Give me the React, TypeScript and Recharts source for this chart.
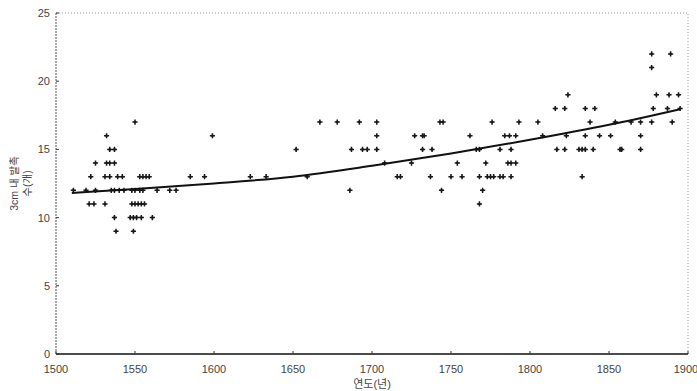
import React from 'react';
import { ScatterChart, Scatter, XAxis, YAxis, ReferenceLine, Label } from 'recharts';

// Observed points, grouped by value (count) level
const yearsAt9 = [1538, 1549];
const yearsAt10 = [1537, 1547, 1549, 1551, 1554, 1561];
const yearsAt11 = [1521, 1524, 1531, 1548, 1550, 1552, 1554, 1556, 1768];
const yearsAt12 = [1511, 1519, 1525, 1535, 1537, 1540, 1543, 1548, 1550, 1553, 1555, 1564, 1572, 1576, 1686, 1744, 1770];
const yearsAt13 = [1522, 1531, 1534, 1539, 1542, 1553, 1555, 1557, 1559, 1585, 1594, 1623, 1633, 1659, 1716, 1718, 1737, 1750, 1757, 1768, 1773, 1775, 1777, 1781, 1783, 1788, 1833];
const yearsAt14 = [1525, 1532, 1534, 1537, 1708, 1725, 1754, 1772, 1786, 1788, 1791];
const yearsAt15 = [1534, 1537, 1652, 1687, 1694, 1697, 1703, 1732, 1738, 1766, 1768, 1781, 1788, 1817, 1822, 1831, 1833, 1835, 1840, 1857, 1858, 1870];
const yearsAt16 = [1532, 1599, 1703, 1727, 1732, 1733, 1762, 1784, 1787, 1791, 1808, 1823, 1835, 1844, 1851, 1870];
const yearsAt17 = [1550, 1667, 1678, 1692, 1703, 1743, 1745, 1776, 1793, 1805, 1838, 1854, 1864, 1870, 1877, 1890];
const yearsAt18 = [1816, 1822, 1835, 1841, 1878, 1887, 1895];
const yearsAt19 = [1824, 1880, 1888, 1894];
const yearsAt21 = [1877];
const yearsAt22 = [1877, 1889];

const levels: [number, number[]][] = [
  [9, yearsAt9], [10, yearsAt10], [11, yearsAt11], [12, yearsAt12], [13, yearsAt13],
  [14, yearsAt14], [15, yearsAt15], [16, yearsAt16], [17, yearsAt17], [18, yearsAt18],
  [19, yearsAt19], [21, yearsAt21], [22, yearsAt22],
];

// Trend curve
const trendYears = [1510, 1550, 1600, 1650, 1700, 1750, 1800, 1850, 1895];
const trendValues = [11.8, 12.1, 12.5, 13.0, 13.8, 14.7, 15.7, 16.8, 17.95];

const xTicks = [1500, 1550, 1600, 1650, 1700, 1750, 1800, 1850, 1900];
const yTicks = [0, 5, 10, 15, 20, 25];

const xTitle = '연도(년)';
const yTitleLine1 = '3cm 내 발촉';
const yTitleLine2 = '수(개)';

const points = levels.flatMap(([v, ys]) => ys.map((year) => ({ year, value: v })));
const trend = trendYears.map((year, i) => ({ year, value: trendValues[i] }));

const FONT = '"Liberation Sans", Arial, "Noto Sans CJK KR", sans-serif';

const PlusMark = (props: any) => {
  const { cx, cy } = props;
  if (cx == null || cy == null) return <g />;
  return (
    <g>
      <path d={`M${cx - 2.6},${cy}H${cx + 2.6}M${cx},${cy - 2.6}V${cy + 2.6}`} stroke="#1a1a1a" strokeWidth={1.5} />
      <circle cx={cx} cy={cy} r={1.3} fill="#1a1a1a" />
    </g>
  );
};

const NoMark = () => <g />;

const YTitle = (props: any) => {
  const vb = props.viewBox || {};
  const cy = vb.y + vb.height / 2;
  const x1 = 14;
  const x2 = 27;
  return (
    <g fontFamily={FONT} fontSize={10.5} fill="#444">
      <text x={x1} y={cy} transform={`rotate(-90 ${x1} ${cy})`} textAnchor="middle" dominantBaseline="central">{yTitleLine1}</text>
      <text x={x2} y={cy} transform={`rotate(-90 ${x2} ${cy})`} textAnchor="middle" dominantBaseline="central">{yTitleLine2}</text>
    </g>
  );
};

export default function App() {
  return (
    <div style={{ position: 'absolute', left: 0, top: 0, width: 697, height: 391, background: '#fff' }}>
      <ScatterChart width={697} height={391} margin={{ top: 13, right: 9, bottom: 0, left: 0 }}>
        <XAxis
          type="number"
          dataKey="year"
          domain={[1500, 1900]}
          ticks={xTicks}
          allowDataOverflow
          height={37}
          tickSize={-3}
          tickMargin={14}
          axisLine={{ stroke: '#111', strokeWidth: 1.5 }}
          tickLine={{ stroke: '#333' }}
          tick={{ fontSize: 11, fill: '#444', fontFamily: FONT }}
        >
          <Label value={xTitle} position="insideBottom" offset={3} style={{ fontSize: 11, fill: '#444', fontFamily: FONT }} />
        </XAxis>
        <YAxis
          type="number"
          dataKey="value"
          domain={[0, 25]}
          ticks={yTicks}
          allowDataOverflow
          width={56}
          tickSize={-3}
          tickMargin={9}
          axisLine={{ stroke: '#555', strokeDasharray: '2 1' }}
          tickLine={{ stroke: '#333' }}
          tick={{ fontSize: 11, fill: '#444', fontFamily: FONT }}
        >
          <Label content={YTitle} />
        </YAxis>
        <ReferenceLine y={25} stroke="#999" strokeDasharray="1 2" />
        <ReferenceLine x={1900} stroke="#999" strokeDasharray="1 2" />
        <Scatter data={points} shape={PlusMark} isAnimationActive={false} />
        <Scatter
          data={trend}
          shape={NoMark}
          line={{ stroke: '#111', strokeWidth: 2 }}
          lineType="joint"
          lineJointType="monotoneX"
          isAnimationActive={false}
        />
      </ScatterChart>
    </div>
  );
}
